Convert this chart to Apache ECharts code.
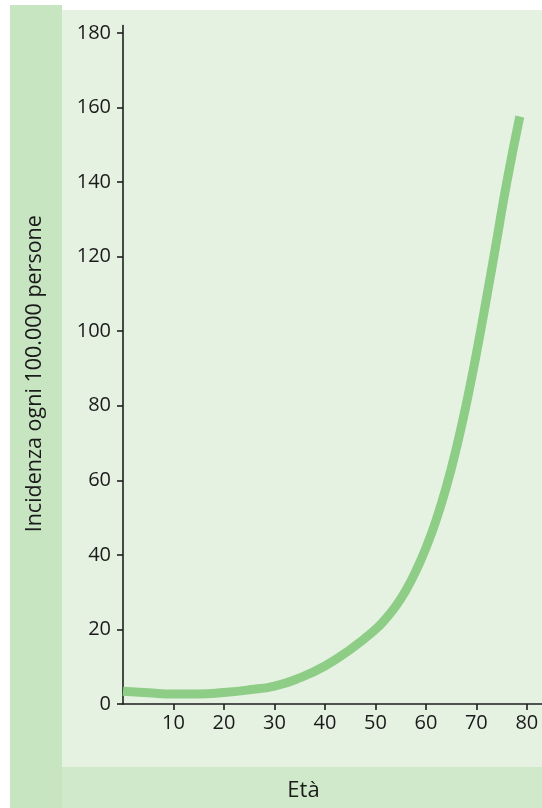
<!DOCTYPE html>
<html>
<head>
<meta charset="utf-8">
<style>
html,body{margin:0;padding:0;background:#ffffff;}
#chart{width:542px;height:808px;}
</style>
<script src="https://cdn.jsdelivr.net/npm/echarts@6/dist/echarts.min.js"></script>
</head>
<body>
<div id="chart"></div>
<script>
// Data
var ages = [0, 5, 10, 15, 20, 25, 30, 35, 40, 45, 50, 52, 54, 56, 58, 60, 62, 64, 66, 68, 70, 72, 74, 76, 78.6];
var incidence = [3.4, 3.0, 2.7, 2.7, 3.1, 3.8, 4.8, 7.0, 10.2, 14.6, 20.0, 22.8, 26.2, 30.4, 35.6, 41.8, 49.2, 58.0, 68.4, 80.4, 94.0, 108.8, 124.2, 139.8, 157.6];
var xTicks = [10, 20, 30, 40, 50, 60, 70, 80];
var yTicks = [0, 20, 40, 60, 80, 100, 120, 140, 160, 180];
var yTitle = 'Incidenza ogni 100.000 persone';
var xTitle = 'Età';

var points = ages.map(function (a, i) { return [a, incidence[i]]; });
var FONT = '"Open Sans", "Noto Sans", sans-serif';

var chart = echarts.init(document.getElementById('chart'), null, {renderer: 'canvas'});
chart.setOption({
  animation: false,
  backgroundColor: '#ffffff',
  graphic: [
    {type: 'rect', z: -10, silent: true, shape: {x: 10, y: 5, width: 52, height: 803}, style: {fill: '#c8e5c2'}},
    {type: 'rect', z: -10, silent: true, shape: {x: 62, y: 10, width: 480, height: 757}, style: {fill: '#e5f2e2'}},
    {type: 'rect', z: -10, silent: true, shape: {x: 62, y: 767, width: 480, height: 41}, style: {fill: '#d1e9cb'}}
  ],
  grid: {left: 123, right: 0, top: 25.5, bottom: 104, containLabel: false},
  xAxis: {
    type: 'value',
    min: 0,
    max: 83,
    name: xTitle,
    nameLocation: 'middle',
    nameGap: 76,
    nameTextStyle: {fontFamily: FONT, fontSize: 22, color: '#1a1a1a', padding: [0, 58, 0, 0]},
    axisLine: {show: true, onZero: false, lineStyle: {color: '#1e1e1e', width: 1.6}},
    axisTick: {show: true, length: 6, lineStyle: {color: '#1e1e1e', width: 1.6}, customValues: xTicks},
    axisLabel: {fontFamily: FONT, fontSize: 20, color: '#1a1a1a', margin: 9, customValues: xTicks},
    splitLine: {show: false}
  },
  yAxis: {
    type: 'value',
    min: 0,
    max: 182,
    name: yTitle,
    nameLocation: 'middle',
    nameRotate: 90,
    nameGap: 77,
    nameTextStyle: {fontFamily: FONT, fontSize: 21.5, color: '#1a1a1a', padding: [0, 18, 0, 0]},
    axisLine: {show: true, onZero: false, lineStyle: {color: '#1e1e1e', width: 1.6}},
    axisTick: {show: true, length: 6, lineStyle: {color: '#1e1e1e', width: 1.6}, customValues: yTicks},
    axisLabel: {fontFamily: FONT, fontSize: 20, color: '#1a1a1a', margin: 12, customValues: yTicks},
    splitLine: {show: false}
  },
  series: [{
    type: 'line',
    data: points,
    smooth: 0.5,
    showSymbol: false,
    symbol: 'none',
    clip: false,
    lineStyle: {color: '#8dcd86', width: 9, cap: 'butt'}
  }]
});
</script>
</body>
</html>
